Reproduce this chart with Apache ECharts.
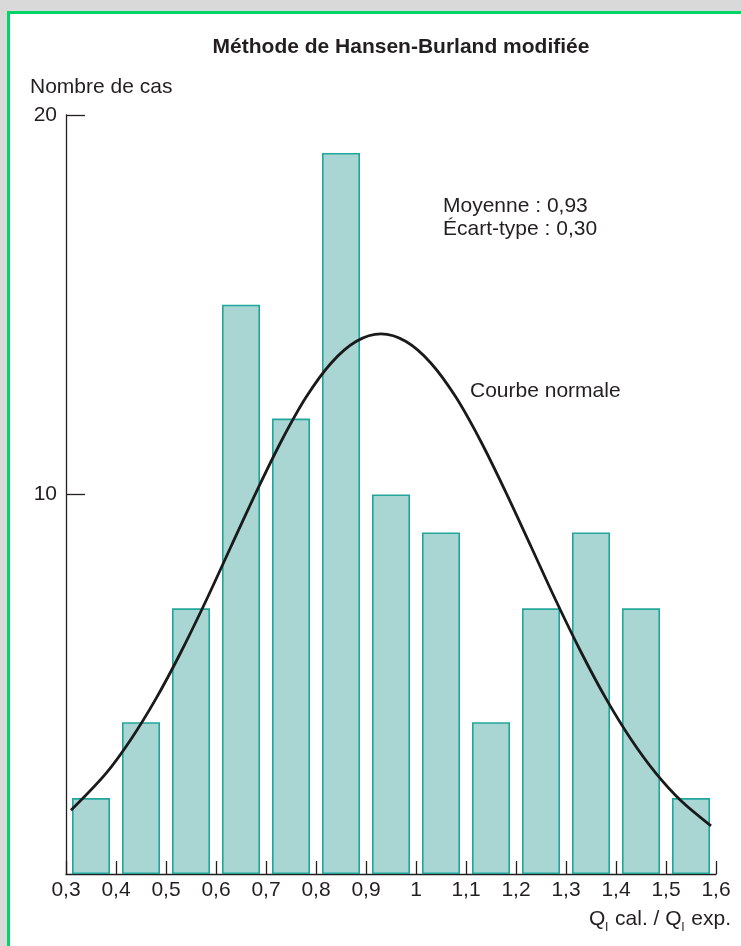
<!DOCTYPE html>
<html>
<head>
<meta charset="utf-8">
<script src="https://cdn.jsdelivr.net/npm/echarts@6/dist/echarts.min.js"></script>
<style>
  html, body { margin: 0; padding: 0; background: #d9d9d9; width: 741px; height: 946px; overflow: hidden; }
  #frame { position: absolute; left: 7px; top: 11px; width: 800px; height: 1000px; border: 3px solid #00d466; background: #ffffff; }
  #chart { position: absolute; left: 0; top: 0; width: 741px; height: 946px; }
</style>
</head>
<body>
<div id="frame"></div>
<div id="chart"></div>
<script>
// ---- data ----
const titleText = 'Méthode de Hansen-Burland modifiée';
const yAxisTitle = 'Nombre de cas';
const binLabels = ['0,3-0,4','0,4-0,5','0,5-0,6','0,6-0,7','0,7-0,8','0,8-0,9','0,9-1','1-1,1','1,1-1,2','1,2-1,3','1,3-1,4','1,4-1,5','1,5-1,6'];
const caseCounts = [2, 4, 7, 15, 12, 19, 10, 9, 4, 7, 9, 7, 2];
const curveX = [0.31, 0.38, 0.43, 0.48, 0.53, 0.58, 0.63, 0.68, 0.73, 0.78, 0.83, 0.88, 0.93, 0.98, 1.03, 1.08, 1.13, 1.18, 1.23, 1.28, 1.33, 1.38, 1.43, 1.48, 1.53, 1.59];
const curveY = [1.68, 2.65, 3.55, 4.62, 5.85, 7.2, 8.63, 10.05, 11.39, 12.56, 13.46, 14.03, 14.23, 14.03, 13.46, 12.56, 11.39, 10.05, 8.63, 7.2, 5.85, 4.62, 3.55, 2.65, 1.93, 1.27];
const xMin = 0.3, xMax = 1.6, xStep = 0.1;
const yMin = 0, yMax = 20, yStep = 10;
const statsLines = ['Moyenne : 0,93', 'Écart-type : 0,30'];
const curveLabel = 'Courbe normale';

const FONT = "'Liberation Sans', Arial, Helvetica, sans-serif";
const INK = '#231f20';

const chart = echarts.init(document.getElementById('chart'), null, { renderer: 'canvas' });
const fmt = v => String(Math.round(v * 10) / 10).replace('.', ',');

chart.setOption({
  backgroundColor: 'transparent',
  animation: false,
  textStyle: { fontFamily: FONT },
  grid: { left: 66, right: 25, top: 115, bottom: 72, containLabel: false },
  xAxis: [
    {
      type: 'category', data: binLabels, position: 'bottom', boundaryGap: true,
      axisLine: { show: false }, axisTick: { show: false }, axisLabel: { show: false }, splitLine: { show: false }
    },
    {
      type: 'value', min: xMin, max: xMax, interval: xStep, position: 'bottom',
      axisLine: { show: true, lineStyle: { color: INK, width: 1.3 } },
      axisTick: { show: true, inside: true, length: 13, lineStyle: { color: INK, width: 1.3 } },
      axisLabel: { show: true, formatter: fmt, color: INK, fontSize: 21, margin: 6, fontFamily: FONT },
      splitLine: { show: false }
    }
  ],
  yAxis: {
    type: 'value', min: yMin, max: yMax, interval: yStep,
    axisLine: { show: true, lineStyle: { color: INK, width: 1.3 } },
    axisTick: { show: true, inside: true, length: 19, lineStyle: { color: INK, width: 1.3 } },
    axisLabel: { show: true, showMinLabel: false, color: INK, fontSize: 21, margin: 9, verticalAlign: 'middle',
      padding: [0, 0, 13, 0], fontFamily: FONT,
      formatter: v => (v === 0 ? '' : String(v)) },
    splitLine: { show: false }
  },
  series: [
    {
      type: 'bar', xAxisIndex: 0, yAxisIndex: 0, data: caseCounts, barWidth: '76%',
      itemStyle: { color: '#a9d6d3', borderColor: '#22a69b', borderWidth: 1.6 },
      z: 2
    },
    {
      type: 'line', xAxisIndex: 1, yAxisIndex: 0, data: curveX.map((x, i) => [x, curveY[i]]),
      smooth: 0.33, showSymbol: false, symbol: 'none',
      lineStyle: { color: '#1a1a1a', width: 2.8 },
      z: 3
    }
  ],
  graphic: [
    { type: 'text', x: 401, y: 37,
      style: { text: titleText, fill: INK, font: "bold 21px " + FONT, textAlign: 'center' } },
    { type: 'text', x: 30, y: 77, style: { text: yAxisTitle, fill: INK, font: "21px " + FONT } },
    { type: 'text', x: 443, y: 195, style: { text: statsLines.join('\n'), fill: INK, font: "21px " + FONT, lineHeight: 23 } },
    { type: 'text', x: 470, y: 381, style: { text: curveLabel, fill: INK, font: "21px " + FONT } },
    { type: 'text', right: 10, top: 909,
      style: {
        text: '{a|Q}{s|l}{a| cal. / Q}{s|l}{a| exp.}',
        rich: {
          a: { fontSize: 21, fontFamily: FONT, fill: INK, color: INK, lineHeight: 22, verticalAlign: 'top' },
          s: { fontSize: 13, fontFamily: FONT, fill: INK, color: INK, lineHeight: 13, padding: [12, 1, 0, 0], verticalAlign: 'top' }
        }
      } }
  ]
});
</script>
</body>
</html>
